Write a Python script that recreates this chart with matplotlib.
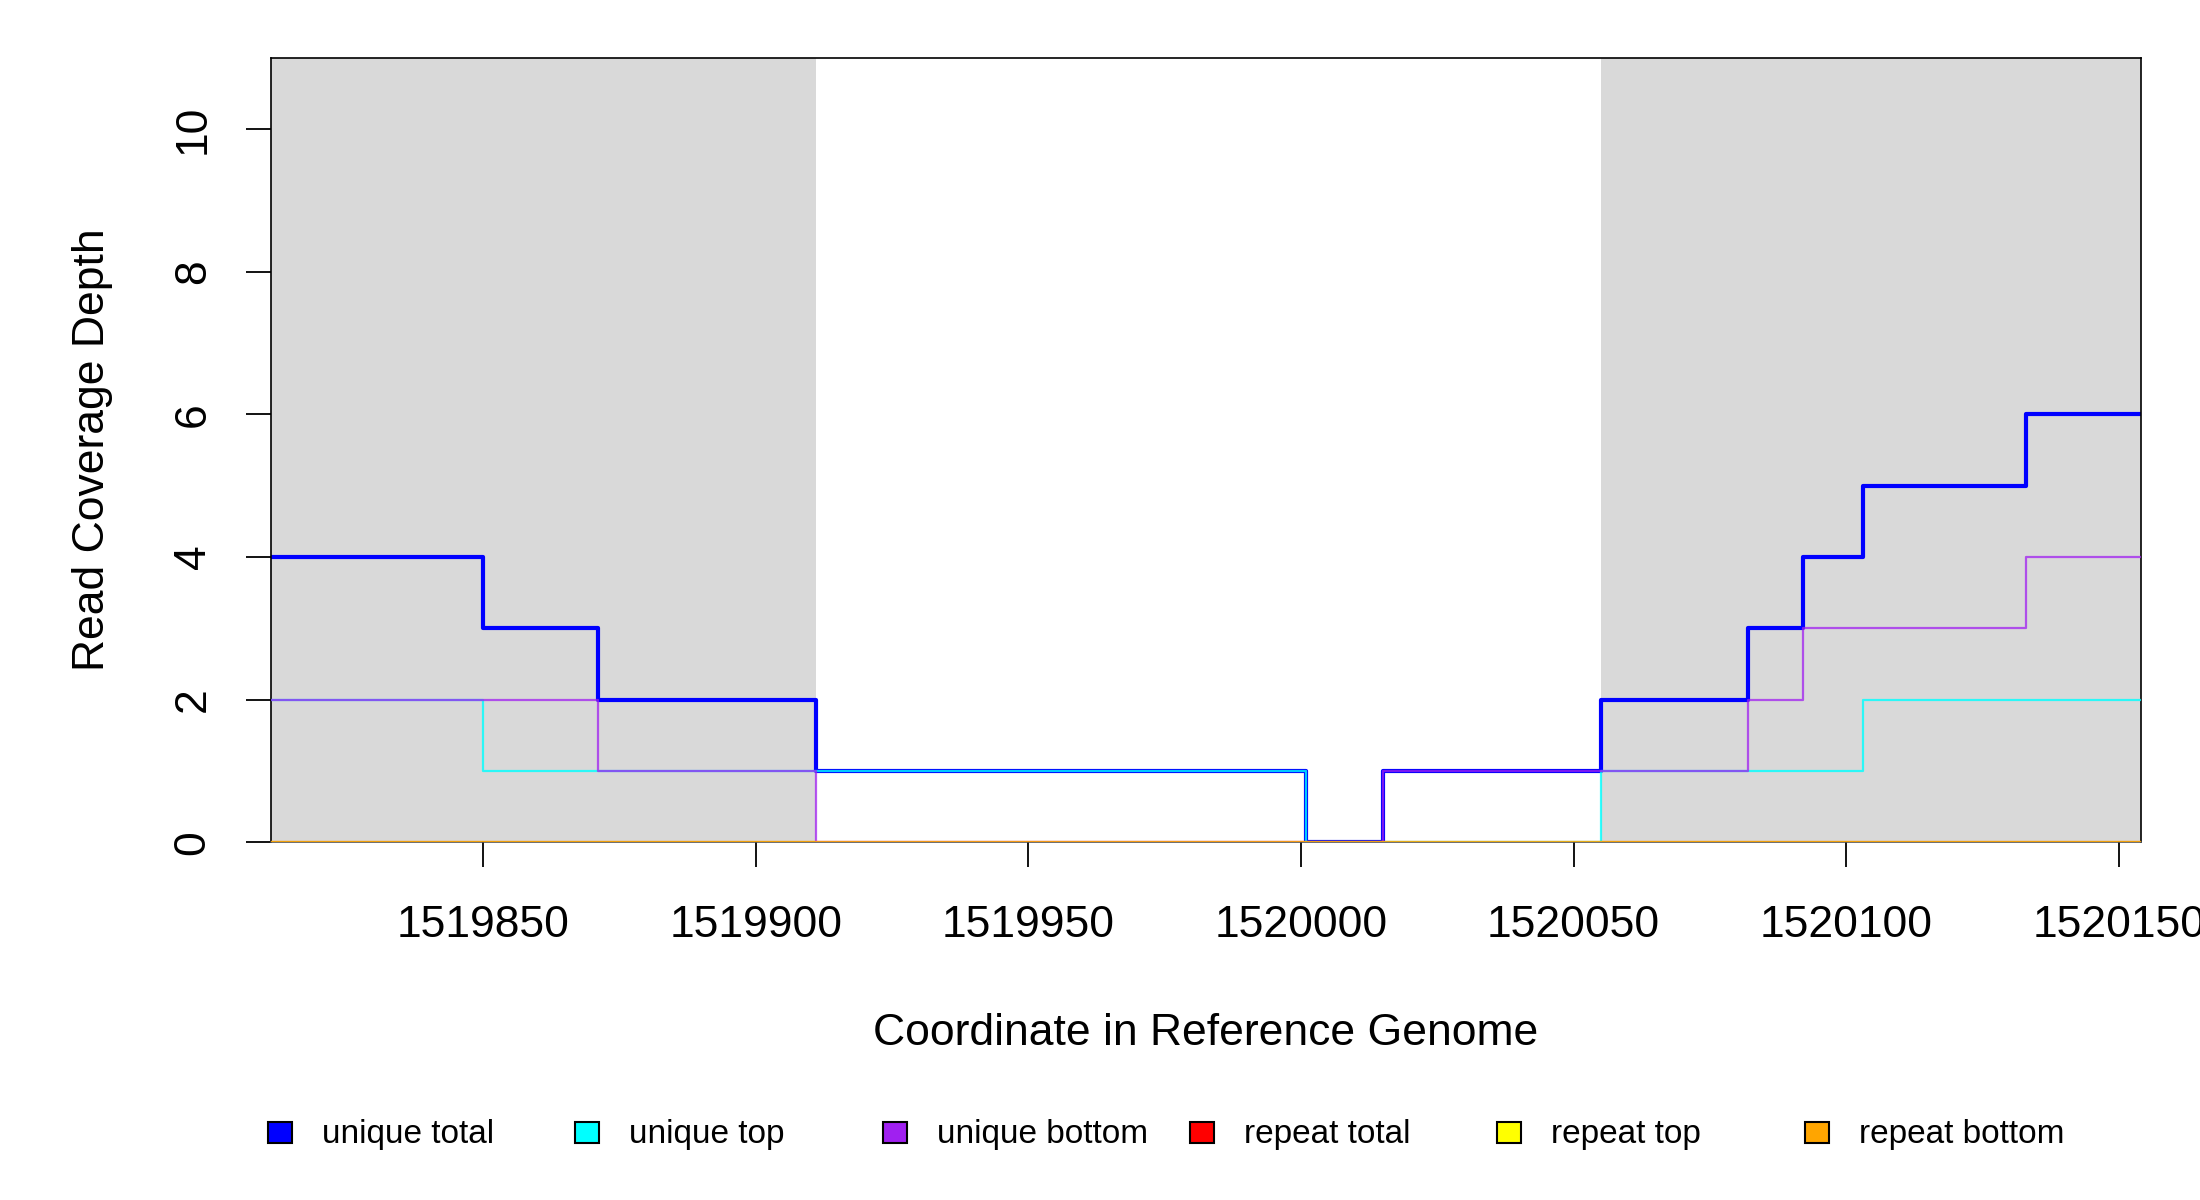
import matplotlib
matplotlib.use("Agg")
import matplotlib.pyplot as plt
from matplotlib.patches import Rectangle

plt.rcParams['font.family'] = ['Liberation Sans', 'DejaVu Sans']

# step data: x = start of each segment (last point = right end of window)
x_start, x_end = 1519811, 1520154
shaded = [(1519811, 1519911), (1520055, 1520154)]

total_x = [1519811, 1519850, 1519871, 1519911, 1520001, 1520015, 1520055, 1520082, 1520092, 1520103, 1520133, 1520154]
total_y = [4, 3, 2, 1, 0, 1, 2, 3, 4, 5, 6, 6]
top_x = [1519811, 1519850, 1520001, 1520055, 1520103, 1520154]
top_y = [2, 1, 0, 1, 2, 2]
bottom_x = [1519811, 1519871, 1519911, 1520015, 1520082, 1520092, 1520133, 1520154]
bottom_y = [2, 1, 0, 1, 2, 3, 4, 4]
rep_x = [1519811, 1520154]
rep_total = [0, 0]
rep_top = [0, 0]
rep_bottom = [0, 0]

xticks = [1519850, 1519900, 1519950, 1520000, 1520050, 1520100, 1520150]
yticks = [0, 2, 4, 6, 8, 10]

labels = ["unique total", "unique top", "unique bottom", "repeat total", "repeat top", "repeat bottom"]
colors = ["blue", "cyan", "#a020f0", "red", "yellow", "orange"]

fig = plt.figure(figsize=(22, 12), dpi=100)
ax = fig.add_axes([0.123, 0.298, 0.850, 0.654])

for a, b in shaded:
    ax.axvspan(a, b, color="#d9d9d9", lw=0, zorder=0)

ax.step(total_x, total_y, where="post", color=colors[0], lw=3, zorder=2)
ax.step(top_x, top_y, where="post", color=colors[1], lw=1.6, alpha=0.8, zorder=3)
ax.step(bottom_x, bottom_y, where="post", color=colors[2], lw=1.6, alpha=0.75, zorder=4)
ax.step(rep_x, rep_total, where="post", color=colors[3], lw=1.6, alpha=0.5, zorder=5)
ax.step(rep_x, rep_top, where="post", color=colors[4], lw=1.6, alpha=0.5, zorder=5)
ax.step(rep_x, rep_bottom, where="post", color=colors[5], lw=1.6, alpha=0.6, zorder=5)

ax.set_xlim(x_start, x_end)
ax.set_ylim(0, 11)
ax.set_xticks(xticks)
ax.set_xticklabels([str(t) for t in xticks])
ax.set_yticks(yticks)
ax.set_yticklabels([str(t) for t in yticks], rotation=90, va="center")
ax.tick_params(axis="both", length=18, width=1.3, labelsize=32, direction="out")
ax.tick_params(axis="x", pad=27)
ax.tick_params(axis="y", pad=23)
for s in ax.spines.values():
    s.set_linewidth(1.2)
ax.spines["bottom"].set_color("#555555")

ax.set_xlabel("Coordinate in Reference Genome", fontsize=32, labelpad=48)
ax.set_ylabel("Read Coverage Depth", fontsize=32, labelpad=43)

# legend row along the bottom
for i, (lab, col) in enumerate(zip(labels, colors)):
    x0 = 0.1218 + i * 0.1397
    fig.patches.append(Rectangle((x0, 0.0475), 0.0109, 0.0175, transform=fig.transFigure,
                                 facecolor=col, edgecolor="black", lw=1.5))
    fig.text(x0 + 0.0245, 0.055, lab, fontsize=24, va="center", ha="left")

fig.savefig("out.png", dpi=100)
